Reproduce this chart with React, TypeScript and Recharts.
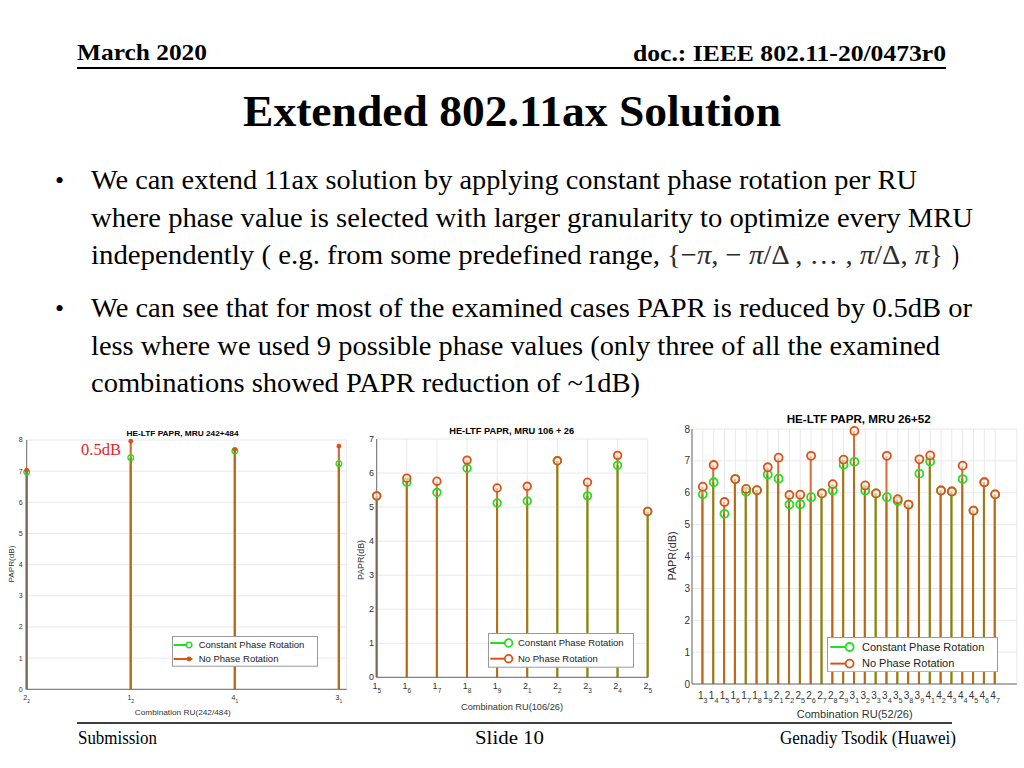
import React from 'react';
import { ComposedChart, Bar, Line, XAxis, YAxis, CartesianGrid, Legend } from 'recharts';

// HE-LTF PAPR, MRU 242+484
const ru242 = ['2_2', '1_2', '4_1', '3_1'];
const papr242NoRot = [7.03, 7.96, 7.7, 7.8];
const papr242Const = [6.97, 7.43, 7.65, 7.24];

// HE-LTF PAPR, MRU 106 + 26
const ru106 = ['1_5', '1_6', '1_7', '1_8', '1_9', '2_1', '2_2', '2_3', '2_4', '2_5'];
const papr106NoRot = [5.33, 5.85, 5.76, 6.38, 5.56, 5.61, 6.36, 5.73, 6.52, 4.87];
const papr106Const = [5.33, 5.73, 5.43, 6.14, 5.12, 5.18, 6.36, 5.33, 6.23, 4.87];

// HE-LTF PAPR, MRU 26+52
const ru52 = [
  '1_3', '1_4', '1_5', '1_6', '1_7', '1_8', '1_9', '2_1', '2_2', '2_5', '2_6', '2_7', '2_8', '2_9',
  '3_1', '3_2', '3_3', '3_4', '3_5', '3_8', '3_9', '4_1', '4_2', '4_3', '4_4', '4_5', '4_6', '4_7',
];
const papr52NoRot = [
  6.19, 6.87, 5.71, 6.43, 6.12, 6.08, 6.8, 7.1, 5.93, 5.94, 7.16, 5.98, 6.27, 7.04,
  7.94, 6.23, 5.98, 7.16, 5.8, 5.63, 7.05, 7.17, 6.07, 6.04, 6.85, 5.44, 6.33, 5.95,
];
const papr52Const = [
  5.95, 6.33, 5.34, 6.43, 6.03, 6.08, 6.57, 6.44, 5.63, 5.64, 5.86, 5.98, 6.07, 6.88,
  6.97, 6.07, 5.98, 5.86, 5.74, 5.63, 6.6, 6.98, 6.07, 6.04, 6.43, 5.44, 6.33, 5.95,
];

const seriesNames = ['Constant Phase Rotation', 'No Phase Rotation'];
const yTicks8 = [0, 1, 2, 3, 4, 5, 6, 7, 8];
const yTicks7 = [0, 1, 2, 3, 4, 5, 6, 7];

const ORANGE = '#D95319';
const GREEN = '#1fe01f';
const SANS = '"Liberation Sans", Arial, Helvetica, sans-serif';
const SERIF = '"Liberation Serif", "Times New Roman", serif';

const SubTick = (props: any) => {
  const { x, y, payload, labels, fs } = props;
  const lab: string | undefined = labels[payload.value - 1];
  if (!lab) return null;
  const [main, sub] = lab.split('_');
  return (
    <text x={x} y={y + fs * 0.75} textAnchor="middle" fontSize={fs} fill="#333" fontFamily={SANS}>
      {main}
      <tspan dy={fs * 0.4} fontSize={fs * 0.72}>{sub}</tspan>
    </text>
  );
};

const Stem = (props: any) => {
  const { x, y, width, height, color, sw, opacity } = props;
  if (height == null || isNaN(height)) return null;
  const cx = x + width / 2;
  return <line x1={cx} x2={cx} y1={y} y2={y + height} stroke={color} strokeWidth={sw} strokeOpacity={opacity} />;
};

type Rect = { x: number; y: number; w: number; h: number };

interface StemChartProps {
  box: Rect;
  plot: { l: number; r: number; t: number; b: number };
  labels: string[];
  noRot: number[];
  constRot: number[];
  xDomain: [number, number];
  yTicks: number[];
  fs: number;
  xGap: number;
  yGap: number;
  stemW: number;
  ringR: number;
  ringW: number;
  filledDot: boolean;
  legend: Rect & { l1: number; l2: number; mark: number; text: number; rows: number[]; fs: number };
}

const StemChart: React.FC<StemChartProps> = (p) => {
  const data = p.labels.map((_, i) => ({ idx: i + 1, noRot: p.noRot[i], constRot: p.constRot[i] }));
  const xTicks = p.labels.map((_, i) => i + 1);
  const lg = p.legend;

  const greenDot = (d: any) =>
    d.cy == null ? null : (
      <circle key={`g${d.index}`} cx={d.cx} cy={d.cy} r={p.ringR} fill="none" stroke={GREEN} strokeWidth={p.ringW} />
    );
  const orangeDot = (d: any) =>
    d.cy == null ? null : p.filledDot ? (
      <circle key={`o${d.index}`} cx={d.cx} cy={d.cy} r={p.ringR * 0.85} fill={ORANGE} stroke="none" />
    ) : (
      <circle key={`o${d.index}`} cx={d.cx} cy={d.cy} r={p.ringR} fill="#fbe9df" fillOpacity={0.6} stroke={ORANGE} strokeWidth={p.ringW} />
    );

  const renderLegend = () => (
    <svg width={lg.w} height={lg.h} style={{ display: 'block' }}>
      <rect x={0.5} y={0.5} width={lg.w - 1} height={lg.h - 1} fill="#fff" stroke="#9a9a9a" />
      {seriesNames.map((name, i) => {
        const ry = lg.rows[i] - lg.y;
        const col = i === 0 ? GREEN : ORANGE;
        return (
          <g key={name}>
            <line x1={lg.l1 - lg.x} x2={lg.l2 - lg.x} y1={ry} y2={ry} stroke={col} strokeWidth={2} />
            {i === 1 && p.filledDot ? (
              <circle cx={lg.mark - lg.x} cy={ry} r={p.ringR * 0.85} fill={ORANGE} />
            ) : (
              <circle cx={lg.mark - lg.x} cy={ry} r={p.ringR} fill="#fff" stroke={col} strokeWidth={p.ringW} />
            )}
            <text x={lg.text - lg.x} y={ry} dy="0.35em" fontSize={lg.fs} fill="#222" fontFamily={SANS}>
              {name}
            </text>
          </g>
        );
      })}
    </svg>
  );

  return (
    <div style={{ position: 'absolute', left: p.box.x, top: p.box.y, width: p.box.w, height: p.box.h }}>
      <ComposedChart
        width={p.box.w}
        height={p.box.h}
        data={data}
        margin={{ top: p.plot.t - p.box.y, right: p.box.x + p.box.w - p.plot.r, bottom: 0, left: 0 }}
      >
        <CartesianGrid xAxisId="a" stroke="#e8e8e8" />
        <XAxis
          xAxisId="a"
          dataKey="idx"
          type="number"
          domain={p.xDomain}
          ticks={xTicks}
          interval={0}
          height={p.box.y + p.box.h - p.plot.b}
          tickSize={0}
          tickMargin={p.xGap}
          tickLine={false}
          axisLine={{ stroke: '#6a6a6a' }}
          tick={(t: any) => <SubTick {...t} labels={p.labels} fs={p.fs} />}
        />
        <XAxis xAxisId="b" dataKey="idx" type="number" domain={p.xDomain} ticks={xTicks} hide />
        <YAxis
          type="number"
          domain={[p.yTicks[0], p.yTicks[p.yTicks.length - 1]]}
          ticks={p.yTicks}
          interval={0}
          width={p.plot.l - p.box.x}
          tickSize={0}
          tickMargin={p.yGap}
          tickLine={false}
          axisLine={{ stroke: '#6a6a6a' }}
          tick={{ fill: '#333', fontSize: p.fs, fontFamily: SANS }}
        />
        <Bar
          xAxisId="a"
          dataKey="constRot"
          barSize={2}
          isAnimationActive={false}
          shape={(s: any) => <Stem {...s} color={GREEN} sw={p.stemW} opacity={1} />}
        />
        <Bar
          xAxisId="b"
          dataKey="noRot"
          barSize={2}
          isAnimationActive={false}
          shape={(s: any) => <Stem {...s} color={ORANGE} sw={p.stemW} opacity={0.86} />}
        />
        <Line xAxisId="a" dataKey="constRot" stroke="none" strokeWidth={0} dot={greenDot} activeDot={false} isAnimationActive={false} />
        <Line xAxisId="a" dataKey="noRot" stroke="none" strokeWidth={0} dot={orangeDot} activeDot={false} isAnimationActive={false} />
        <Legend
          layout="vertical"
          align="center"
          verticalAlign="middle"
          content={renderLegend}
          wrapperStyle={{ left: lg.x - p.box.x, top: lg.y - p.box.y, width: lg.w, height: lg.h }}
        />
      </ComposedChart>
    </div>
  );
};

const T = (props: any) => {
  const { x, y, len, size, bold, anchor, fill, family, children } = props;
  return (
    <text
      x={x}
      y={y}
      fontSize={size}
      fontWeight={bold ? 'bold' : 'normal'}
      textAnchor={anchor || 'start'}
      fill={fill || '#000'}
      fontFamily={family || SERIF}
      textLength={len}
      lengthAdjust="spacingAndGlyphs"
    >
      {children}
    </text>
  );
};

const VLabel = ({ x, y, size, len, children }: any) => (
  <text
    transform={`translate(${x},${y}) rotate(-90)`}
    textAnchor="middle"
    dy="0.35em"
    fontSize={size}
    fill="#333"
    fontFamily={SANS}
    textLength={len}
    lengthAdjust="spacingAndGlyphs"
  >
    {children}
  </text>
);

export default function App() {
  return (
    <div style={{ position: 'fixed', left: 0, top: 0, width: 1024, height: 768, background: '#fff', overflow: 'hidden' }}>
      <svg width={1024} height={768} style={{ position: 'absolute', left: 0, top: 0 }}>
        <T x={77} y={60} len={130} size={24} bold>March 2020</T>
        <T x={633} y={61} len={313} size={24} bold>doc.: IEEE 802.11-20/0473r0</T>
        <line x1={77} x2={946} y1={68} y2={68} stroke="#000" strokeWidth={2} />
        <T x={243} y={126} len={538} size={45} bold>Extended 802.11ax Solution</T>

        <T x={55} y={189} size={26}>•</T>
        <T x={91} y={189} len={826} size={28}>We can extend 11ax solution by applying constant phase rotation per RU</T>
        <T x={91} y={226.5} len={882} size={28}>where phase value is selected with larger granularity to optimize every MRU</T>
        <T x={91} y={264} len={569} size={28}>independently ( e.g. from some predefined range,</T>
        <text x={667} y={264} fontSize={28} fontFamily={SERIF} fill="#2b2b2b" textLength={276} lengthAdjust="spacingAndGlyphs">
          {'{−'}<tspan fontStyle="italic">π</tspan>{', − '}<tspan fontStyle="italic">π</tspan>{'/Δ , … , '}
          <tspan fontStyle="italic">π</tspan>{'/Δ, '}<tspan fontStyle="italic">π</tspan>{'}'}
        </text>
        <T x={952} y={264} len={7} size={28}>)</T>

        <T x={55} y={317} size={26}>•</T>
        <T x={91} y={317} len={881} size={28}>We can see that for most of the examined cases PAPR is reduced by 0.5dB or</T>
        <T x={91} y={354.5} len={849} size={28}>less where we used 9 possible phase values (only three of all the examined</T>
        <T x={91} y={392} len={549} size={28}>combinations showed PAPR reduction of ~1dB)</T>

        <T x={182.5} y={436} len={112} size={8} bold anchor="middle" family={SANS}>HE-LTF PAPR, MRU 242+484</T>
        <T x={182.8} y={715} len={96} size={7.5} anchor="middle" family={SANS} fill="#333">Combination RU(242/484)</T>
        <VLabel x={11.7} y={564} size={7.5} len={37}>PAPR(dB)</VLabel>

        <T x={511.7} y={433.5} len={125} size={9} bold anchor="middle" family={SANS}>HE-LTF PAPR, MRU 106 + 26</T>
        <T x={512} y={709.5} len={102} size={8.5} anchor="middle" family={SANS} fill="#333">Combination RU(106/26)</T>
        <VLabel x={361} y={560} size={8.5} len={40}>PAPR(dB)</VLabel>

        <T x={858.7} y={423} len={144} size={10.5} bold anchor="middle" family={SANS}>HE-LTF PAPR, MRU 26+52</T>
        <T x={854.7} y={717.5} len={116} size={10} anchor="middle" family={SANS} fill="#333">Combination RU(52/26)</T>
        <VLabel x={672.5} y={556} size={10} len={49}>PAPR(dB)</VLabel>

        <line x1={77} x2={952} y1={723} y2={723} stroke="#000" strokeWidth={1.5} />
        <T x={78} y={744} len={79} size={19}>Submission</T>
        <T x={475} y={744} len={69} size={19}>Slide 10</T>
        <T x={780} y={744} len={176} size={19}>Genadiy Tsodik (Huawei)</T>
      </svg>

      <StemChart
        box={{ x: 0, y: 425, w: 360, h: 285 }}
        plot={{ l: 26.7, r: 346.7, t: 440, b: 689.3 }}
        labels={ru242}
        noRot={papr242NoRot}
        constRot={papr242Const}
        xDomain={[1, 4.075]}
        yTicks={yTicks8}
        fs={7}
        xGap={5.7}
        yGap={4}
        stemW={2.2}
        ringR={2.8}
        ringW={1.3}
        filledDot
        legend={{ x: 172.3, y: 636, w: 146, h: 30.7, l1: 174, l2: 192.7, mark: 189.3, text: 199, rows: [645, 659], fs: 9.5 }}
      />
      <StemChart
        box={{ x: 350, y: 425, w: 310, h: 275 }}
        plot={{ l: 376.7, r: 647.7, t: 439, b: 677.3 }}
        labels={ru106}
        noRot={papr106NoRot}
        constRot={papr106Const}
        xDomain={[1, 10]}
        yTicks={yTicks7}
        fs={9}
        xGap={5}
        yGap={2.7}
        stemW={2}
        ringR={3.8}
        ringW={1.8}
        filledDot={false}
        legend={{ x: 487.7, y: 633.3, w: 146, h: 34.7, l1: 490, l2: 509.3, mark: 508.3, text: 517.7, rows: [643.3, 659], fs: 9.5 }}
      />
      <StemChart
        box={{ x: 665, y: 420, w: 359, h: 290 }}
        plot={{ l: 692, r: 1016.8, t: 429, b: 684 }}
        labels={ru52}
        noRot={papr52NoRot}
        constRot={papr52Const}
        xDomain={[0, 30]}
        yTicks={yTicks8}
        fs={10}
        xGap={7}
        yGap={2}
        stemW={2}
        ringR={4}
        ringW={1.8}
        filledDot={false}
        legend={{ x: 826.7, y: 636.7, w: 171, h: 35.3, l1: 830, l2: 850, mark: 849.3, text: 861.7, rows: [646.7, 663.3], fs: 11 }}
      />

      <svg width={160} height={30} style={{ position: 'absolute', left: 70, top: 435 }}>
        <T x={11} y={20} len={40} size={17} fill="#e0262a">0.5dB</T>
      </svg>
    </div>
  );
}
